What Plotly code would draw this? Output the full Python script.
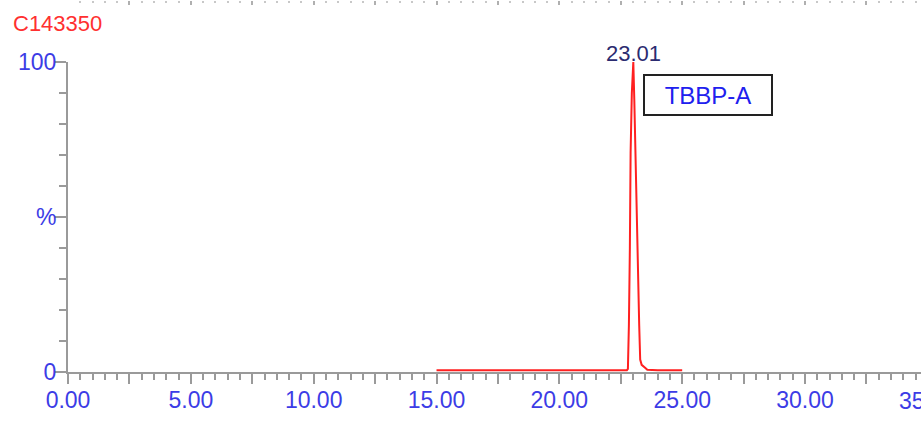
import plotly.graph_objects as go

# ---- data ----
trace_name = "C143350"
peak_label = "23.01"
compound = "TBBP-A"

time_min = [15.00, 22.75, 22.79, 22.83, 22.87, 22.90, 22.95, 23.01, 23.05, 23.09,
            23.16, 23.20, 23.25, 23.29, 23.35, 23.50, 23.58, 24.00, 25.00]
intensity = [0.6, 0.6, 1.0, 15.0, 40.0, 71.0, 90.0, 100.0, 88.0, 71.0,
             50.0, 35.0, 15.0, 4.0, 2.3, 1.3, 0.7, 0.6, 0.6]

x_tickvals = [0, 2.5, 5, 7.5, 10, 12.5, 15, 17.5, 20, 22.5, 25, 27.5, 30, 32.5, 35]
x_ticktext = ["0.00", "", "5.00", "", "10.00", "", "15.00", "", "20.00", "",
              "25.00", "", "30.00", "", "35.00"]
y_tickvals = [0, 50, 100]
y_ticktext = ["0", "%", "100"]

peak_time = 23.01
peak_height = 100
box_time = 23.41
box_height = 96

x_range = [0, 34.72]
y_range = [0, 100]

# ---- style ----
W, H = 921, 431
ML, MR, MT, MB = 68, 0, 0, 59
axis_gray = "#9a9a9a"
tick_blue = "#3c3ce6"
font_family = "Liberation Sans, Arial, sans-serif"

fig = go.Figure()
fig.add_trace(go.Scatter(
    x=time_min, y=intensity, mode="lines",
    line=dict(color="#ff2020", width=2), hoverinfo="skip", showlegend=False,
))
# invisible helper trace so the cut-off top axis (from the chart above) is drawn
fig.add_trace(go.Scatter(
    x=time_min, y=intensity, mode="lines", xaxis="x2",
    line=dict(color="rgba(0,0,0,0)", width=0), hoverinfo="skip", showlegend=False,
))

# labels shown only where they sit inside the drawn range
shown_text = [t if v <= x_range[1] else "" for v, t in zip(x_tickvals, x_ticktext)]

fig.update_layout(
    width=W, height=H,
    margin=dict(l=ML, r=MR, t=MT, b=MB, autoexpand=False),
    paper_bgcolor="white", plot_bgcolor="white",
    font=dict(family=font_family),
    title=dict(text=trace_name, x=13 / W, xanchor="left", xref="container",
               y=1 - 23 / H, yanchor="middle", yref="container",
               font=dict(color="#ff3030", size=22, family=font_family)),
    xaxis=dict(
        range=x_range, domain=[0, 1], anchor="y", automargin=False,
        showgrid=False, zeroline=False,
        showline=True, linecolor=axis_gray, linewidth=2,
        tickmode="array", tickvals=x_tickvals, ticktext=shown_text,
        ticks="outside", ticklen=10, tickwidth=2, tickcolor=axis_gray,
        ticklabelstandoff=-4,
        minor=dict(dtick=0.5, ticks="outside", ticklen=6, tickwidth=2, tickcolor=axis_gray),
        tickfont=dict(color=tick_blue, size=23, family=font_family),
    ),
    xaxis2=dict(
        matches="x", overlaying="x", side="top", anchor="free", position=1,
        automargin=False,
        showgrid=False, zeroline=False, showline=False, showticklabels=False,
        dtick=2.5, tick0=0, ticks="inside", ticklen=4, tickwidth=2, tickcolor="#b0b0b0",
        minor=dict(dtick=0.5, ticks="inside", ticklen=2, tickwidth=2, tickcolor="#c8c8c8"),
    ),
    yaxis=dict(
        range=y_range, domain=[0, (372 - 62) / 372], automargin=False,
        showgrid=False, zeroline=False,
        showline=True, linecolor=axis_gray, linewidth=2,
        tickmode="array", tickvals=y_tickvals, ticktext=y_ticktext,
        ticks="outside", ticklen=11, tickwidth=2, tickcolor=axis_gray,
        ticklabelstandoff=-6,
        minor=dict(dtick=10, ticks="outside", ticklen=7, tickwidth=2, tickcolor=axis_gray),
        tickfont=dict(color=tick_blue, size=23, family=font_family),
    ),
)

# partially visible last tick label beyond the right edge
last_val, last_txt = x_tickvals[-1], x_ticktext[-1]
fig.add_annotation(
    x=(last_val - x_range[0]) / (x_range[1] - x_range[0]), xref="paper",
    xanchor="center",
    y=0, yref="paper", yanchor="top", yshift=-14,
    text=last_txt, showarrow=False,
    font=dict(color=tick_blue, size=23, family=font_family),
)

fig.add_annotation(
    x=peak_time, y=peak_height, xref="x", yref="y",
    text=peak_label, showarrow=False, yanchor="bottom", yshift=-6,
    font=dict(color="#2b2b70", size=22, family=font_family),
)
fig.add_annotation(
    x=box_time, y=box_height, xref="x", yref="y",
    xanchor="left", yanchor="top",
    text=compound, showarrow=False,
    width=124, height=36, align="center", borderpad=1,
    bordercolor="#222222", borderwidth=2, bgcolor="white",
    font=dict(color="#2020ee", size=24, family=font_family),
)

fig.write_html("out.html", config={"displayModeBar": False},
               post_script="document.body.style.margin='0';")
